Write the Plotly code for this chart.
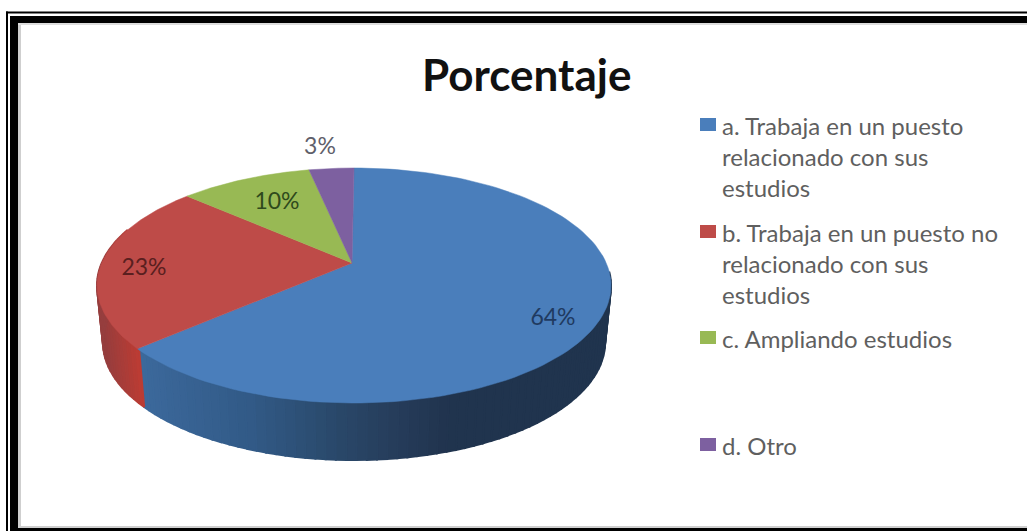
import numpy as np
import plotly.graph_objects as go

title = "Porcentaje"
categories = ["a. Trabaja en un puesto<br>relacionado con sus<br>estudios",
              "b. Trabaja en un puesto no<br>relacionado con sus<br>estudios",
              "c. Ampliando estudios",
              "d. Otro"]
values = [63.5, 23.1, 10.0, 3.4]
top_colors = ["#4a7ebb", "#be4b48", "#98b954", "#7d60a0"]
label_colors = ["#1f3a60", "#5a1f1f", "#2f4a1c", "#5f5f6b"]
label_x = [553, 144, 277, 320]
label_y = [319, 269, 203, 148]
legend_y = [125, 232, 338, 445]

W, H = 1027, 531
# projected disc
CX, CY_TOP, CY_BOT = 354, 285.5, 342.5
RX_TOP, RX_BOT, RY = 257, 251, 117.5
K = 45 / 235
A = 113.2
B = 22.5


def project(frac, cx, cy, rx):
    th = 2 * np.pi * np.asarray(frac)
    sx, cy_ = np.sin(th), np.cos(th)
    d = 1 + K * cy_
    c = rx * np.sqrt(1 - K ** 2)
    return cx + c * sx / d, cy - (A * cy_ / d + B)


def mix(stops, u):
    xs = [s[0] for s in stops]
    return "rgb(%d,%d,%d)" % tuple(np.interp(u, xs, [s[1][i] for s in stops]) for i in range(3))


BLUE_WALL = [(145, (60, 105, 155)), (250, (50, 90, 135)), (340, (42, 72, 105)),
             (400, (38, 60, 90)), (450, (33, 52, 78)), (610, (32, 52, 78))]
RED_WALL = [(100, (150, 62, 62)), (145, (196, 60, 50))]

fig = go.Figure()
total = sum(values)
edges = np.cumsum([0] + values) / total

# side wall, right to left so each strip overlaps the previous one
n = 100
grid = np.linspace(0.262, 0.8, n + 1)
for a, b in zip(grid[:-1], grid[1:]):
    mid = (a + b) / 2
    idx = int(np.searchsorted(edges, mid, side="right") - 1)
    xm, _ = project(mid, CX, CY_TOP, RX_TOP)
    col = mix(BLUE_WALL if idx == 0 else RED_WALL, xm)
    cuts = [a, b]
    for e in edges:
        if a < e < b:
            cuts.insert(1, e)
    xt, yt = project(np.array(cuts), CX, CY_TOP, RX_TOP)
    xb, yb = project(np.array(cuts), CX, CY_BOT, RX_BOT)
    fig.add_trace(go.Scatter(x=np.r_[xt, xb[::-1], xt[0]], y=np.r_[yt, yb[::-1], yt[0]],
                             mode="lines", fill="toself", fillcolor=col,
                             line=dict(color=col, width=2),
                             hoverinfo="skip", showlegend=False))

# top face
for i, (v, col) in enumerate(zip(values, top_colors)):
    fr = np.linspace(edges[i], edges[i + 1], 120)
    x, y = project(fr, CX, CY_TOP, RX_TOP)
    ax = CX - 2
    ay = CY_TOP - B
    fig.add_trace(go.Scatter(x=np.r_[ax, x, ax], y=np.r_[ay, y, ay], mode="lines",
                             fill="toself", fillcolor=col, line=dict(color=col, width=0.5),
                             name=categories[i].replace("<br>", " "),
                             hoverinfo="name", showlegend=False))

fig.add_trace(go.Scatter(x=label_x, y=label_y, mode="text",
                         text=[f"{v:.0f}%" for v in values],
                         textfont=dict(family="Lato", size=23, color=label_colors),
                         textposition="middle center", hoverinfo="skip", showlegend=False))

shapes = []


def rect(x0, y0, x1, y1, color):
    shapes.append(dict(type="rect", xref="x", yref="y", x0=x0, y0=y0, x1=x1, y1=y1,
                       fillcolor=color, line_width=0, layer="below"))


# double frame
rect(6, 11.5, W, 13.5, "#000000")
rect(6, 11.5, 8, H, "#000000")
rect(10, 16, W, 23, "#000000")
rect(10, 16, 18, H, "#000000")
rect(18, 528, W, H, "#000000")
rect(18, 23, 21, 527, "#cfcfcf")
rect(18, 23, W, 25, "#dddddd")
rect(18, 526, W, 528, "#cfcfcf")

annotations = [dict(text=f"<b>{title}</b>", x=526, y=74, xref="x", yref="y", showarrow=False,
                    font=dict(family="Lato", size=44, color="#111111"))]
for cat, ly, col in zip(categories, legend_y, top_colors):
    rect(700, ly - 7, 716, ly + 6, col)
    annotations.append(dict(text=cat, x=720, y=ly - 16, xref="x", yref="y",
                            xanchor="left", yanchor="top", align="left", showarrow=False,
                            font=dict(family="Lato", size=24, color="#5f5f5f")))

fig.update_layout(
    width=W, height=H, margin=dict(l=0, r=0, t=0, b=0),
    paper_bgcolor="white", plot_bgcolor="white", showlegend=False,
    xaxis=dict(range=[0, W], visible=False, fixedrange=True),
    yaxis=dict(range=[H, 0], visible=False, fixedrange=True),
    shapes=shapes, annotations=annotations,
)
fig.write_html("out.html", config=dict(displayModeBar=False),
               post_script="document.body.style.margin='0';document.documentElement.style.overflow='hidden';")
